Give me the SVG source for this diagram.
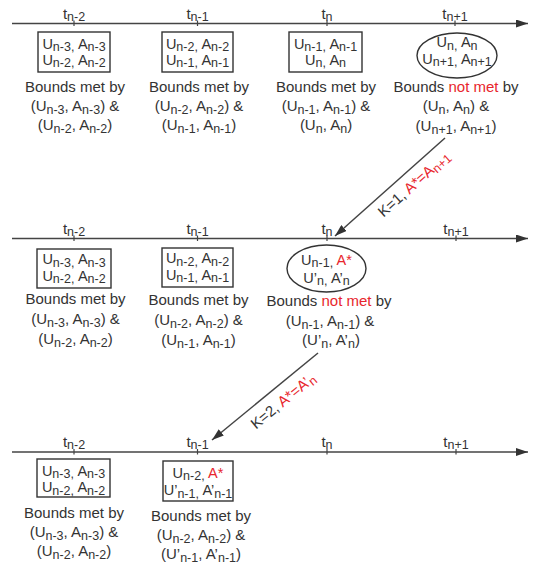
<svg xmlns="http://www.w3.org/2000/svg" width="540" height="570" viewBox="0 0 540 570">
<defs>
<marker id="ah" markerUnits="userSpaceOnUse" markerWidth="12" markerHeight="8" refX="12" refY="4" orient="auto">
<path d="M0,0 L12,4 L0,8 z" fill="#333"/>
</marker>
</defs>
<style>
text{font-family:"Liberation Sans",Arial,sans-serif;fill:#333;text-anchor:middle}
.t{font-size:15px}
.b{font-size:14.5px}
.l{font-size:15px}
.s{font-size:12.5px}
.r{fill:#e8262d}
.ax{stroke:#444;stroke-width:1.5;fill:none}
.tk{stroke:#444;stroke-width:1.2}
.bx{fill:none;stroke:#333;stroke-width:1.4}
</style>
<rect width="540" height="570" fill="#fff"/>

<g id="connectors">
<line class="ax" x1="12" y1="23.5" x2="528" y2="23.5" marker-end="url(#ah)"/>
<line class="ax" x1="12" y1="238.5" x2="528" y2="238.5" marker-end="url(#ah)"/>
<line class="ax" x1="12" y1="452" x2="528" y2="452" marker-end="url(#ah)"/>
<line class="ax" x1="445" y1="138" x2="335" y2="236" marker-end="url(#ah)"/>
<line class="ax" x1="318" y1="353" x2="212" y2="440" marker-end="url(#ah)"/>
<text class="t" transform="translate(414,184) rotate(-41.7)" x="0" y="5">K=1, <tspan class="r">A*=A</tspan><tspan class="s r" dy="2.5">n+1</tspan></text>
<text class="t" transform="translate(283,401) rotate(-39.4)" x="0" y="5">K=2, <tspan class="r">A*=A’</tspan><tspan class="s r" dy="2.5">n</tspan></text>
</g>

<g id="ticks">
<g class="tk">
<line x1="74" y1="20.5" x2="74" y2="26"/><line x1="197.5" y1="20.5" x2="197.5" y2="26"/><line x1="327" y1="20.5" x2="327" y2="26"/><line x1="455" y1="20.5" x2="455" y2="26"/>
<line x1="74" y1="235.5" x2="74" y2="241"/><line x1="197.5" y1="235.5" x2="197.5" y2="241"/><line x1="327" y1="235.5" x2="327" y2="241"/><line x1="456" y1="235.5" x2="456" y2="241"/>
<line x1="74" y1="449" x2="74" y2="454.5"/><line x1="197.5" y1="449" x2="197.5" y2="454.5"/><line x1="327" y1="449" x2="327" y2="454.5"/><line x1="456" y1="449" x2="456" y2="454.5"/>
</g>
<text class="t" x="74" y="19">t<tspan class="s" dy="1.5">n-2</tspan></text>
<text class="t" x="197.5" y="19">t<tspan class="s" dy="1.5">n-1</tspan></text>
<text class="t" x="327" y="19">t<tspan class="s" dy="1.5">n</tspan></text>
<text class="t" x="455" y="19">t<tspan class="s" dy="1.5">n+1</tspan></text>
<text class="t" x="74" y="234">t<tspan class="s" dy="1.5">n-2</tspan></text>
<text class="t" x="197.5" y="234">t<tspan class="s" dy="1.5">n-1</tspan></text>
<text class="t" x="327" y="234">t<tspan class="s" dy="1.5">n</tspan></text>
<text class="t" x="456" y="234">t<tspan class="s" dy="1.5">n+1</tspan></text>
<text class="t" x="74" y="447">t<tspan class="s" dy="1.5">n-2</tspan></text>
<text class="t" x="197.5" y="447">t<tspan class="s" dy="1.5">n-1</tspan></text>
<text class="t" x="327" y="447">t<tspan class="s" dy="1.5">n</tspan></text>
<text class="t" x="456" y="447">t<tspan class="s" dy="1.5">n+1</tspan></text>
</g>

<!-- Row 1 -->
<g id="r1c1">
<rect class="bx" x="38" y="32" width="72" height="40"/>
<text class="b" x="74" y="48.5">U<tspan class="s" dy="2.5">n-3, </tspan><tspan dy="-2.5">A</tspan><tspan class="s" dy="2.5">n-3</tspan></text>
<text class="b" x="74" y="64.5">U<tspan class="s" dy="2.5">n-2, </tspan><tspan dy="-2.5">A</tspan><tspan class="s" dy="2.5">n-2</tspan></text>
<text class="l" x="75" y="92">Bounds met by</text>
<text class="l" x="75" y="111">(U<tspan class="s" dy="2.5">n-3</tspan><tspan dy="-2.5">, A</tspan><tspan class="s" dy="2.5">n-3</tspan><tspan dy="-2.5">) &amp;</tspan></text>
<text class="l" x="75" y="130">(U<tspan class="s" dy="2.5">n-2</tspan><tspan dy="-2.5">, A</tspan><tspan class="s" dy="2.5">n-2</tspan><tspan dy="-2.5">)</tspan></text>
</g>
<g id="r1c2">
<rect class="bx" x="162" y="32" width="71" height="40"/>
<text class="b" x="197.5" y="48.5">U<tspan class="s" dy="2.5">n-2, </tspan><tspan dy="-2.5">A</tspan><tspan class="s" dy="2.5">n-2</tspan></text>
<text class="b" x="197.5" y="64.5">U<tspan class="s" dy="2.5">n-1, </tspan><tspan dy="-2.5">A</tspan><tspan class="s" dy="2.5">n-1</tspan></text>
<text class="l" x="199" y="92">Bounds met by</text>
<text class="l" x="199" y="111">(U<tspan class="s" dy="2.5">n-2</tspan><tspan dy="-2.5">, A</tspan><tspan class="s" dy="2.5">n-2</tspan><tspan dy="-2.5">) &amp;</tspan></text>
<text class="l" x="199" y="130">(U<tspan class="s" dy="2.5">n-1</tspan><tspan dy="-2.5">, A</tspan><tspan class="s" dy="2.5">n-1</tspan><tspan dy="-2.5">)</tspan></text>
</g>
<g id="r1c3">
<rect class="bx" x="289" y="32" width="73" height="40"/>
<text class="b" x="325.5" y="48.5">U<tspan class="s" dy="2.5">n-1, </tspan><tspan dy="-2.5">A</tspan><tspan class="s" dy="2.5">n-1</tspan></text>
<text class="b" x="325.5" y="64.5">U<tspan class="s" dy="2.5">n, </tspan><tspan dy="-2.5">A</tspan><tspan class="s" dy="2.5">n</tspan></text>
<text class="l" x="326" y="92">Bounds met by</text>
<text class="l" x="326" y="111">(U<tspan class="s" dy="2.5">n-1</tspan><tspan dy="-2.5">, A</tspan><tspan class="s" dy="2.5">n-1</tspan><tspan dy="-2.5">) &amp;</tspan></text>
<text class="l" x="326" y="130">(U<tspan class="s" dy="2.5">n</tspan><tspan dy="-2.5">, A</tspan><tspan class="s" dy="2.5">n</tspan><tspan dy="-2.5">)</tspan></text>
</g>
<g id="r1c4">
<ellipse class="bx" cx="457" cy="55.5" rx="40" ry="22.5"/>
<text class="b" x="457" y="47">U<tspan class="s" dy="2.5">n, </tspan><tspan dy="-2.5">A</tspan><tspan class="s" dy="2.5">n</tspan></text>
<text class="b" x="457" y="63.5">U<tspan class="s" dy="2.5">n+1, </tspan><tspan dy="-2.5">A</tspan><tspan class="s" dy="2.5">n+1</tspan></text>
<text class="l" x="456" y="92">Bounds <tspan class="r">not met</tspan> by</text>
<text class="l" x="456" y="111">(U<tspan class="s" dy="2.5">n</tspan><tspan dy="-2.5">, A</tspan><tspan class="s" dy="2.5">n</tspan><tspan dy="-2.5">) &amp;</tspan></text>
<text class="l" x="456" y="131">(U<tspan class="s" dy="2.5">n+1</tspan><tspan dy="-2.5">, A</tspan><tspan class="s" dy="2.5">n+1</tspan><tspan dy="-2.5">)</tspan></text>
</g>

<!-- Row 2 -->
<g id="r2c1">
<rect class="bx" x="37" y="249" width="74" height="39"/>
<text class="b" x="74" y="264">U<tspan class="s" dy="2.5">n-3, </tspan><tspan dy="-2.5">A</tspan><tspan class="s" dy="2.5">n-3</tspan></text>
<text class="b" x="74" y="280.5">U<tspan class="s" dy="2.5">n-2, </tspan><tspan dy="-2.5">A</tspan><tspan class="s" dy="2.5">n-2</tspan></text>
<text class="l" x="75.5" y="304">Bounds met by</text>
<text class="l" x="75.5" y="324">(U<tspan class="s" dy="2.5">n-3</tspan><tspan dy="-2.5">, A</tspan><tspan class="s" dy="2.5">n-3</tspan><tspan dy="-2.5">) &amp;</tspan></text>
<text class="l" x="75.5" y="344">(U<tspan class="s" dy="2.5">n-2</tspan><tspan dy="-2.5">, A</tspan><tspan class="s" dy="2.5">n-2</tspan><tspan dy="-2.5">)</tspan></text>
</g>
<g id="r2c2">
<rect class="bx" x="162" y="248" width="71" height="39"/>
<text class="b" x="197.5" y="263">U<tspan class="s" dy="2.5">n-2, </tspan><tspan dy="-2.5">A</tspan><tspan class="s" dy="2.5">n-2</tspan></text>
<text class="b" x="197.5" y="279.5">U<tspan class="s" dy="2.5">n-1, </tspan><tspan dy="-2.5">A</tspan><tspan class="s" dy="2.5">n-1</tspan></text>
<text class="l" x="198.5" y="305">Bounds met by</text>
<text class="l" x="198.5" y="325">(U<tspan class="s" dy="2.5">n-2</tspan><tspan dy="-2.5">, A</tspan><tspan class="s" dy="2.5">n-2</tspan><tspan dy="-2.5">) &amp;</tspan></text>
<text class="l" x="198.5" y="345">(U<tspan class="s" dy="2.5">n-1</tspan><tspan dy="-2.5">, A</tspan><tspan class="s" dy="2.5">n-1</tspan><tspan dy="-2.5">)</tspan></text>
</g>
<g id="r2c3">
<ellipse class="bx" cx="326.5" cy="268.5" rx="39.5" ry="23.5"/>
<text class="b" x="326.5" y="264.5">U<tspan class="s" dy="2.5">n-1, </tspan><tspan class="r" dy="-2.5">A*</tspan></text>
<text class="b" x="326.5" y="282.5">U’<tspan class="s" dy="2.5">n, </tspan><tspan dy="-2.5">A’</tspan><tspan class="s" dy="2.5">n</tspan></text>
<text class="l" x="329" y="306">Bounds <tspan class="r">not met</tspan> by</text>
<text class="l" x="330" y="326">(U<tspan class="s" dy="2.5">n-1</tspan><tspan dy="-2.5">, A</tspan><tspan class="s" dy="2.5">n-1</tspan><tspan dy="-2.5">) &amp;</tspan></text>
<text class="l" x="331" y="345">(U’<tspan class="s" dy="2.5">n</tspan><tspan dy="-2.5">, A’</tspan><tspan class="s" dy="2.5">n</tspan><tspan dy="-2.5">)</tspan></text>
</g>

<!-- Row 3 -->
<g id="r3c1">
<rect class="bx" x="37" y="459" width="73" height="38"/>
<text class="b" x="73.5" y="475.5">U<tspan class="s" dy="2.5">n-3, </tspan><tspan dy="-2.5">A</tspan><tspan class="s" dy="2.5">n-3</tspan></text>
<text class="b" x="73.5" y="492">U<tspan class="s" dy="2.5">n-2, </tspan><tspan dy="-2.5">A</tspan><tspan class="s" dy="2.5">n-2</tspan></text>
<text class="l" x="74" y="518">Bounds met by</text>
<text class="l" x="74" y="537">(U<tspan class="s" dy="2.5">n-3</tspan><tspan dy="-2.5">, A</tspan><tspan class="s" dy="2.5">n-3</tspan><tspan dy="-2.5">) &amp;</tspan></text>
<text class="l" x="74" y="556">(U<tspan class="s" dy="2.5">n-2</tspan><tspan dy="-2.5">, A</tspan><tspan class="s" dy="2.5">n-2</tspan><tspan dy="-2.5">)</tspan></text>
</g>
<g id="r3c2">
<rect class="bx" x="163" y="461" width="70" height="40"/>
<text class="b" x="198" y="477.5">U<tspan class="s" dy="2.5">n-2, </tspan><tspan class="r" dy="-2.5">A*</tspan></text>
<text class="b" x="198" y="495">U’<tspan class="s" dy="2.5">n-1, </tspan><tspan dy="-2.5">A’</tspan><tspan class="s" dy="2.5">n-1</tspan></text>
<text class="l" x="201" y="521">Bounds met by</text>
<text class="l" x="201" y="540">(U<tspan class="s" dy="2.5">n-2</tspan><tspan dy="-2.5">, A</tspan><tspan class="s" dy="2.5">n-2</tspan><tspan dy="-2.5">) &amp;</tspan></text>
<text class="l" x="201" y="559">(U’<tspan class="s" dy="2.5">n-1</tspan><tspan dy="-2.5">, A’</tspan><tspan class="s" dy="2.5">n-1</tspan><tspan dy="-2.5">)</tspan></text>
</g>
</svg>
